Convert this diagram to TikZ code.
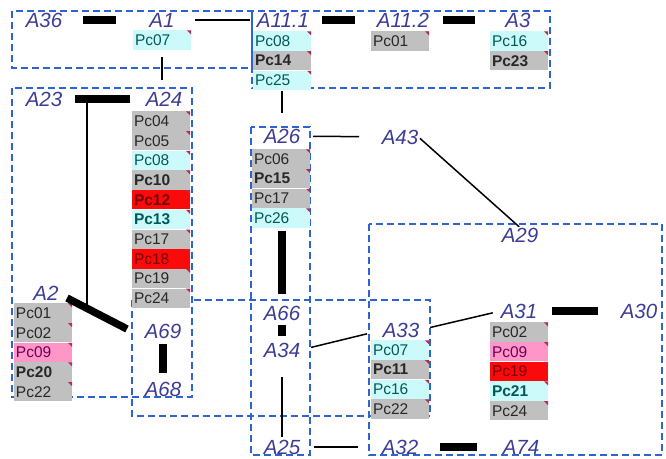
\documentclass[tikz,border=0pt]{standalone}
\usepackage{fontspec}
\setmainfont{Liberation Sans}
\usepackage{tikz}
\usetikzlibrary{positioning}
\definecolor{zoneblue}{RGB}{45,100,205}
\definecolor{lblblue}{RGB}{60,60,150}
\definecolor{chipcyan}{RGB}{204,250,250}
\definecolor{chipgray}{RGB}{192,192,192}
\definecolor{chipred}{RGB}{250,10,10}
\definecolor{chippink}{RGB}{255,150,200}
\definecolor{tickred}{RGB}{190,40,80}

\begin{document}
\begin{tikzpicture}[
  x=1pt, y=-1pt,
  node distance=0pt,
  zone/.style={draw=zoneblue, line width=1.3pt, dash pattern=on 7pt off 4pt},
  area/.style={font=\fontsize{20.5}{20.5}\selectfont\itshape, text=lblblue, inner sep=0pt},
  chip/.style={font=\fontsize{15.5}{16}\selectfont, text width=54pt, inner xsep=2pt, inner ysep=0pt,
    minimum height=19.3pt, align=left,
    path picture={\fill[tickred] (path picture bounding box.north east) -- ++(-4pt,0pt) -- ++(4pt,-4pt) -- cycle;}},
  hot/.style={font=\fontsize{15.5}{16}\selectfont\bfseries},
  cchip/.style={chip, fill=chipcyan, text={rgb,255:red,0;green,90;blue,90}},
  gchip/.style={chip, fill=chipgray, text={rgb,255:red,40;green,40;blue,40}},
  rchip/.style={chip, fill=chipred, text={rgb,255:red,120;green,0;blue,0}},
  pchip/.style={chip, fill=chippink, text={rgb,255:red,110;green,0;blue,90}},
  link/.style={draw, line width=1.5pt},
  bar/.style={draw, line width=7.5pt}
]
\useasboundingbox (0,0) rectangle (666,458);

% zones
\draw[zone] (12,11) rectangle (252,68);
\draw[zone] (252,11) rectangle (550,88);
\draw[zone] (12,88) rectangle (192,397);
\draw[zone] (132,300) rectangle (430,416);
\draw[zone] (251,127) rectangle (310,455);
\draw[zone] (369,224) rectangle (662,455);

% areas
\node[area] (a36) at (44,20) {A36};
\node[area] (a1) at (162,20) {A1};
\node[area] (a111) at (283,20) {A11.1};
\node[area] (a112) at (403,20) {A11.2};
\node[area] (a3) at (518,20) {A3};
\node[area] (a23) at (44,99) {A23};
\node[area] (a24) at (164,99) {A24};
\node[area] (a26) at (282,136) {A26};
\node[area] (a43) at (400,137) {A43};
\node[area] (a29) at (520,235) {A29};
\node[area] (a2) at (46,293) {A2};
\node[area] (a69) at (163,331) {A69};
\node[area] (a68) at (163,389) {A68};
\node[area] (a66) at (282,313) {A66};
\node[area] (a34) at (282,350) {A34};
\node[area] (a33) at (401,330) {A33};
\node[area] (a31) at (519,311) {A31};
\node[area] (a30) at (639,311) {A30};
\node[area] (a25) at (282,447) {A25};
\node[area] (a32) at (400,447) {A32};
\node[area] (a74) at (521,447) {A74};

% chips
\node[cchip] (a1pc07) at (162,40) {Pc07};

\node[cchip] (a111pc08) at (282,41) {Pc08};
\node[gchip, hot, below=of a111pc08] (a111pc14) {Pc14};
\node[cchip, below=of a111pc14] (a111pc25) {Pc25};

\node[gchip] (a112pc01) at (400,41) {Pc01};

\node[cchip] (a3pc16) at (519,41) {Pc16};
\node[gchip, hot, below=of a3pc16] (a3pc23) {Pc23};

\node[gchip] (a24pc04) at (161,121) {Pc04};
\node[gchip, below=of a24pc04] (a24pc05) {Pc05};
\node[cchip, below=of a24pc05] (a24pc08) {Pc08};
\node[gchip, hot, below=of a24pc08] (a24pc10) {Pc10};
\node[rchip, hot, below=of a24pc10] (a24pc12) {Pc12};
\node[cchip, hot, below=of a24pc12] (a24pc13) {Pc13};
\node[gchip, below=of a24pc13] (a24pc17) {Pc17};
\node[rchip, below=of a24pc17] (a24pc18) {Pc18};
\node[gchip, below=of a24pc18] (a24pc19) {Pc19};
\node[gchip, below=of a24pc19] (a24pc24) {Pc24};

\node[gchip] (a26pc06) at (281,159) {Pc06};
\node[gchip, hot, below=of a26pc06] (a26pc15) {Pc15};
\node[gchip, below=of a26pc15] (a26pc17) {Pc17};
\node[cchip, below=of a26pc17] (a26pc26) {Pc26};

\node[gchip] (a2pc01) at (43,313) {Pc01};
\node[gchip, below=of a2pc01] (a2pc02) {Pc02};
\node[pchip, below=of a2pc02] (a2pc09) {Pc09};
\node[gchip, hot, below=of a2pc09] (a2pc20) {Pc20};
\node[gchip, below=of a2pc20] (a2pc22) {Pc22};

\node[cchip] (a33pc07) at (400,350) {Pc07};
\node[gchip, hot, below=of a33pc07] (a33pc11) {Pc11};
\node[cchip, below=of a33pc11] (a33pc16) {Pc16};
\node[gchip, below=of a33pc16] (a33pc22) {Pc22};

\node[gchip] (a31pc02) at (519,332) {Pc02};
\node[pchip, below=of a31pc02] (a31pc09) {Pc09};
\node[rchip, below=of a31pc09] (a31pc19) {Pc19};
\node[cchip, hot, below=of a31pc19] (a31pc21) {Pc21};
\node[gchip, below=of a31pc21] (a31pc24) {Pc24};

% links
\draw[bar, shorten <=39pt, shorten >=46pt] (a36.center) -- (a1.center);
\draw[link, shorten <=33pt, shorten >=33pt] (a1.center) -- (a111.center);
\draw[bar, shorten <=39pt, shorten >=48pt] (a111.center) -- (a112.center);
\draw[bar, shorten <=40pt, shorten >=43pt] (a112.center) -- (a3.center);
\draw[link, shorten <=17pt, shorten >=19pt] (a1pc07.center) -- (a1pc07 |- a24);
\draw[link, shorten <=11pt, shorten >=23pt] (a111pc25.center) -- (a111pc25 |- a26);
\draw[bar, shorten <=31pt, shorten >=34pt] (a23.center) -- coordinate[pos=0.358] (j1) (a24.center);
\draw[bar] ([shift={(21,5)}]a2.center) -- coordinate[pos=0.333] (j2) ([shift={(-36,-2)}]a69.center);
\draw[link] (j1) -- (j1 |- j2);
\draw[bar, shorten <=13pt, shorten >=16pt] (a69.center) -- (a68.center);
\draw[bar, shorten <=95pt, shorten >=19pt] (a26.center) -- (a66.center);
\draw[bar, shorten <=12pt, shorten >=14pt] (a66.center) -- (a34.center);
\draw[link, shorten <=27pt, shorten >=10pt] (a34.center) -- (a25.center);
\draw[link, shorten <=31pt, shorten >=41pt] (a26.center) -- (a43.center);
\draw[link, shorten <=2pt, shorten >=1pt] (a43.east) -- (a29.north);
\draw[link, shorten <=11pt, shorten >=16pt] (a34.east) -- (a33.west);
\draw[link, shorten <=11pt, shorten >=8pt] (a33.east) -- (a31.west);
\draw[bar, shorten <=33pt, shorten >=41pt] (a31.center) -- (a30.center);
\draw[link, shorten <=32pt, shorten >=42pt] (a25.center) -- (a32.center);
\draw[bar, shorten <=40pt, shorten >=44pt] (a32.center) -- (a74.center);

\end{tikzpicture}
\end{document}
